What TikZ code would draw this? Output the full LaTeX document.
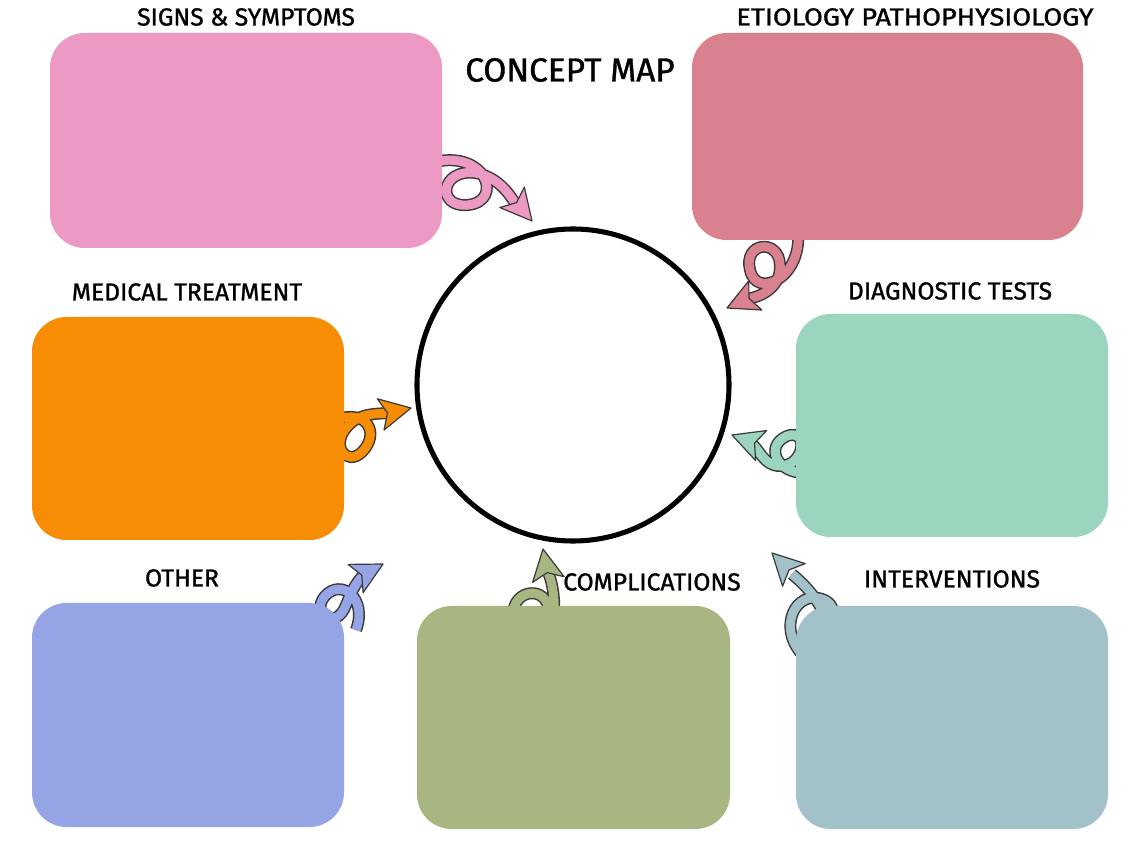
\documentclass[tikz,border=0pt]{standalone}
\usepackage{fontspec}
\setmainfont{Fira Sans}[FakeBold=1.2]
\usetikzlibrary{calc}
\definecolor{cSigns}{HTML}{EC9AC3}
\definecolor{cEtio}{HTML}{D9818E}
\definecolor{cMed}{HTML}{F78D04}
\definecolor{cDiag}{HTML}{9BD5BE}
\definecolor{cOther}{HTML}{95A4E4}
\definecolor{cComp}{HTML}{A8B681}
\definecolor{cInter}{HTML}{A2C1C9}
\definecolor{outl}{HTML}{3A3A3A}
\pgfdeclarelayer{back}
\pgfdeclarelayer{bg}
\pgfsetlayers{back,bg,main}
\tikzset{
  box/.style={fill=#1, draw=none, rounded corners=26pt, inner sep=0pt, outer sep=0pt},
  lbl/.style={font=\fontsize{18.5}{21}\selectfont, inner sep=0pt, text=black},
  tubeout/.style={draw=outl, line width=9pt, line cap=butt},
  tubein/.style={draw=#1, line width=6.8pt, line cap=butt},
}
% curly arrow: #1 colour, #2 path, #3 tip coordinate, #4 visual angle
\newcommand\curl[4]{%
  \begin{pgfonlayer}{bg}
  \draw[tubeout] #2;
  \draw[tubein=#1] #2;
  \end{pgfonlayer}
  \filldraw[fill=#1, draw=outl, line width=0.9pt, line join=round, shift={#3}, rotate=#4]
    (0,0) -- (-31,-16) -- (-24,0) -- (-31,16) -- cycle;
}
\begin{document}
\begin{tikzpicture}[x=0.75pt,y=-0.75pt]
\useasboundingbox (0,0) rectangle (1140,855);
\begin{pgfonlayer}{back}
\fill[white] (0,0) rectangle (1140,855);
\end{pgfonlayer}

% boxes
\node[box=cSigns, minimum width=294pt, minimum height=161.25pt] (signs) at (246,140.5) {};
\node[box=cEtio, minimum width=293.25pt, minimum height=155.25pt] (etio) at (887.5,136.5) {};
\node[box=cMed, minimum width=234pt, minimum height=167.25pt] (med) at (188,428.5) {};
\node[box=cDiag, minimum width=234pt, minimum height=167.25pt] (diag) at (952,425.5) {};
\node[box=cOther, minimum width=234pt, minimum height=168pt] (other) at (188,715) {};
\node[box=cComp, minimum width=234.75pt, minimum height=167.25pt] (comp) at (573.5,717.5) {};
\node[box=cInter, minimum width=234pt, minimum height=167.25pt] (inter) at (952,717.5) {};

% centre circle
\node[circle, draw=black, line width=3.8pt, fill=white, minimum size=234pt, inner sep=0pt] (center) at (573,385) {};

% labels
\node[lbl] (tsigns) at (246,17) {SIGNS \& SYMPTOMS};
\node[lbl, xscale=1.1] (tetio) at (915,17) {ETIOLOGY PATHOPHYSIOLOGY};
\node[lbl, font=\fontsize{25}{28}\selectfont] (title) at (570,70) {CONCEPT MAP};
\node[lbl] (tmed) at (187,292) {MEDICAL TREATMENT};
\node[lbl] (tdiag) at (950,291) {DIAGNOSTIC TESTS};
\node[lbl] (tother) at (182,578) {OTHER};
\node[lbl] (tcomp) at (652,582) {COMPLICATIONS};
\node[lbl] (tinter) at (952,579) {INTERVENTIONS};

% curly arrows
\curl{cSigns}{(435,162) .. controls (486,150) and (504,201) .. (468,205) .. controls (436,208) and (440,168) .. (476,173) .. controls (497,177) and (508,192) .. (515,203)}{(532,221)}{-50}
\curl{cEtio}{(798,232) .. controls (802,279) and (756,299) .. (750,270) .. controls (743,242) and (779,238) .. (780,265) .. controls (781,287) and (762,297) .. (746,299)}{(727,308)}{-156}
\curl{cMed}{(335,420) .. controls (368,408) and (380,434) .. (362,452) .. controls (347,467) and (330,446) .. (347,427) .. controls (360,412) and (378,414) .. (390,413)}{(411,408)}{12}
\curl{cDiag}{(806,473) .. controls (777,474) and (764,446) .. (787,436) .. controls (809,428) and (805,466) .. (780,466) .. controls (764,466) and (760,450) .. (751,443)}{(732,435)}{160}
\curl{cOther}{(356,630) .. controls (368,598) and (341,578) .. (325,596) .. controls (310,613) and (336,632) .. (346,605) .. controls (352,590) and (358,579) .. (366,573)}{(383,564)}{28}
\curl{cComp}{(513,615) .. controls (513,588) and (548,585) .. (549,612) .. controls (550,622) and (555,618) .. (554,600) .. controls (553,586) and (550,577) .. (548,572)}{(543,549)}{100}
\curl{cInter}{(806,658) .. controls (778,634) and (791,594) .. (818,598) .. controls (842,602) and (832,630) .. (822,610) .. controls (815,596) and (805,585) .. (792,574)}{(772,553)}{135}
\end{tikzpicture}
\end{document}
